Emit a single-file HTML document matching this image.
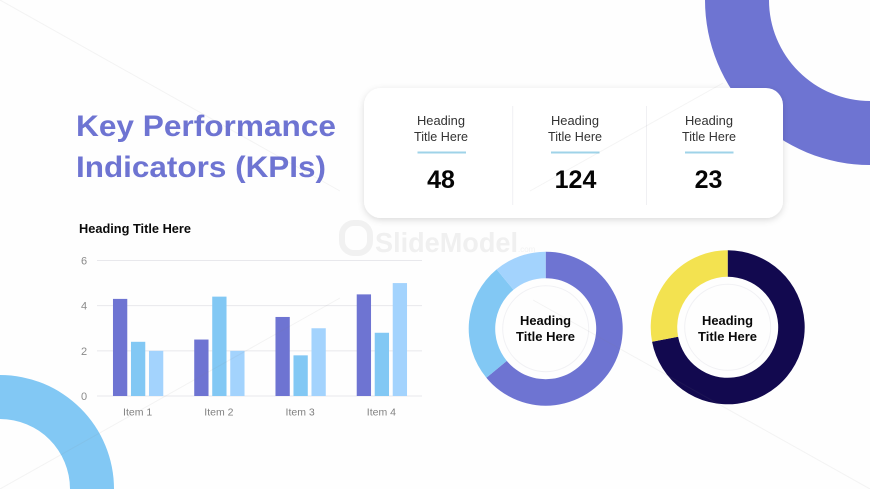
<!DOCTYPE html>
<html lang="en">
<head>
<meta charset="utf-8">
<title>Key Performance Indicators (KPIs)</title>
<style>
html,body{margin:0;padding:0;background:#fff;}
body{width:870px;height:489px;overflow:hidden;}
svg{display:block;font-family:"Liberation Sans",sans-serif;}
</style>
</head>
<body>
<svg id="slide" xmlns="http://www.w3.org/2000/svg" width="870" height="489" viewBox="0 0 870 489">
  <defs>
    <filter id="cardShadow" x="-10%" y="-20%" width="120%" height="140%">
      <feDropShadow dx="0" dy="2" stdDeviation="3.5" flood-color="#000" flood-opacity="0.14"/>
    </filter>
  </defs>
  <rect width="870" height="489" fill="#fefefe"/>
  <path d="M705 0A165 165 0 0 0 870 165L870 101A101 101 0 0 1 769 0Z" fill="#6e74d2"/>
  <path d="M0 375A114 114 0 0 1 114 489L70 489A70 70 0 0 0 0 419Z" fill="#82c8f4"/>

  <g>
    <rect x="342" y="223" width="28" height="30" rx="12" fill="none" stroke="#f1f1f1" stroke-width="6"/>
    <text x="375" y="252" font-size="28" font-weight="700" fill="#f0f0f0" textLength="143" lengthAdjust="spacingAndGlyphs">SlideModel</text>
    <text x="518" y="252" font-size="8" fill="#f2f2f2">.com</text>
  </g>

  <text x="76" y="136" font-size="30" font-weight="700" fill="#6e74d2" textLength="260" lengthAdjust="spacingAndGlyphs">Key Performance</text>
  <text x="76" y="177" font-size="30" font-weight="700" fill="#6e74d2" textLength="250" lengthAdjust="spacingAndGlyphs">Indicators (KPIs)</text>

  <g>
    <rect x="364" y="88" width="419" height="130" rx="17" fill="#fff" filter="url(#cardShadow)"/>
    <line x1="512.7" y1="106" x2="512.7" y2="205" stroke="#f0f0f3"/>
    <line x1="646.5" y1="106" x2="646.5" y2="205" stroke="#f0f0f3"/>

    <g text-anchor="middle">
      <text x="441" y="125" font-size="12.5" fill="#333" textLength="48" lengthAdjust="spacingAndGlyphs">Heading</text>
      <text x="441" y="141" font-size="12.5" fill="#333" textLength="54" lengthAdjust="spacingAndGlyphs">Title Here</text>
      <rect x="417.5" y="151.5" width="48.5" height="2" fill="#9fd3e8"/>
      <text x="441" y="188" font-size="25" font-weight="700" fill="#050505">48</text>
    </g>
    <g text-anchor="middle">
      <text x="575" y="125" font-size="12.5" fill="#333" textLength="48" lengthAdjust="spacingAndGlyphs">Heading</text>
      <text x="575" y="141" font-size="12.5" fill="#333" textLength="54" lengthAdjust="spacingAndGlyphs">Title Here</text>
      <rect x="551" y="151.5" width="48.5" height="2" fill="#9fd3e8"/>
      <text x="575.5" y="188" font-size="25" font-weight="700" fill="#050505">124</text>
    </g>
    <g text-anchor="middle">
      <text x="709" y="125" font-size="12.5" fill="#333" textLength="48" lengthAdjust="spacingAndGlyphs">Heading</text>
      <text x="709" y="141" font-size="12.5" fill="#333" textLength="54" lengthAdjust="spacingAndGlyphs">Title Here</text>
      <rect x="685" y="151.5" width="48.5" height="2" fill="#9fd3e8"/>
      <text x="708.5" y="188" font-size="25" font-weight="700" fill="#050505">23</text>
    </g>
  </g>

  <text x="79" y="233" font-size="12.5" font-weight="700" fill="#0a0a0a" textLength="112" lengthAdjust="spacingAndGlyphs">Heading Title  Here</text>
  <g id="barChart"></g>

  <g id="donutOne"></g>
  <circle cx="545.7" cy="328.7" r="43" fill="none" stroke="#f1f1f4"/>
  <text x="545.5" y="325" font-size="12.5" font-weight="700" fill="#0a0a0a" text-anchor="middle" textLength="51" lengthAdjust="spacingAndGlyphs">Heading</text>
  <text x="545.5" y="341" font-size="12.5" font-weight="700" fill="#0a0a0a" text-anchor="middle" textLength="59" lengthAdjust="spacingAndGlyphs">Title Here</text>

  <g id="donutTwo"></g>
  <circle cx="727.7" cy="327.3" r="43" fill="none" stroke="#f1f1f4"/>
  <text x="727.5" y="325" font-size="12.5" font-weight="700" fill="#0a0a0a" text-anchor="middle" textLength="51" lengthAdjust="spacingAndGlyphs">Heading</text>
  <text x="727.5" y="341" font-size="12.5" font-weight="700" fill="#0a0a0a" text-anchor="middle" textLength="59" lengthAdjust="spacingAndGlyphs">Title Here</text>

  <g stroke="#8a8a8a" stroke-opacity="0.09" stroke-width="1">
    <line x1="0" y1="489" x2="340" y2="298"/>
    <line x1="530" y1="191" x2="723" y2="83"/>
    <line x1="0" y1="0" x2="340" y2="191"/>
    <line x1="533" y1="300" x2="870" y2="489"/>
  </g>
</svg>
<script>
var barCategories = ['Item 1', 'Item 2', 'Item 3', 'Item 4'];
var seriesOne = [4.3, 2.5, 3.5, 4.5];
var seriesTwo = [2.4, 4.4, 1.8, 2.8];
var seriesThree = [2, 2, 3, 5];
var yTickLabels = [0, 2, 4, 6];
var donutOneValues = [64, 25, 11];
var donutTwoValues = [72, 28];

var SVGNS = 'http://www.w3.org/2000/svg';
var plotLeft = 97, plotRight = 422, plotBottom = 396, plotTop = 260.5, yMax = 6;
var barWidth = 14.3, barStep = 18;
var seriesList = [seriesOne, seriesTwo, seriesThree];
var seriesColors = ['#6e74d2', '#82c8f4', '#a3d3fd'];

function yScale(v) {
  return plotBottom - (v / yMax) * (plotBottom - plotTop);
}
function xCenter(i) {
  return plotLeft + (i + 0.5) * (plotRight - plotLeft) / barCategories.length;
}
function make(tag, parent, attrs) {
  var el = document.createElementNS(SVGNS, tag);
  for (var k in attrs) el.setAttribute(k, attrs[k]);
  parent.appendChild(el);
  return el;
}

var chart = document.getElementById('barChart');

yTickLabels.forEach(function (t) {
  var grid = make('line', chart, {x1: plotLeft, x2: plotRight, y1: yScale(t), y2: yScale(t), stroke: '#e8e8ec', 'stroke-width': 1});
  
  
  var label = make('text', chart, {x: 84, y: yScale(t) + 4, 'font-size': 11, fill: '#8a8a8a', 'text-anchor': 'middle'});
  
  
  label.textContent = t;
});

barCategories.forEach(function (c, i) {
  seriesList.forEach(function (s, j) {
    var x = xCenter(i) + (j - 1) * barStep - barWidth / 2 + 0.5;
    var bar = make('rect', chart, {x: x, y: yScale(s[i]), width: barWidth, height: plotBottom - yScale(s[i]), fill: seriesColors[j]});
    
    
  });
  var label = make('text', chart, {x: xCenter(i), y: 415.5, 'font-size': 10.5, fill: '#808080', 'text-anchor': 'middle'});
  
  
  label.textContent = c;
});

function polar(cx, cy, r, frac) {
  var a = frac * 2 * Math.PI;
  return [cx + r * Math.sin(a), cy - r * Math.cos(a)];
}
function drawDonut(group, values, colors, cx, cy, outer, inner) {
  var total = values.reduce(function (a, b) { return a + b; }, 0);
  var start = 0;
  values.forEach(function (v, i) {
    var end = start + v / total;
    var large = (end - start) > 0.5 ? 1 : 0;
    var p1 = polar(cx, cy, outer, start), p2 = polar(cx, cy, outer, end);
    var p3 = polar(cx, cy, inner, end), p4 = polar(cx, cy, inner, start);
    var d = 'M' + p1[0] + ' ' + p1[1] +
      'A' + outer + ' ' + outer + ' 0 ' + large + ' 1 ' + p2[0] + ' ' + p2[1] +
      'L' + p3[0] + ' ' + p3[1] +
      'A' + inner + ' ' + inner + ' 0 ' + large + ' 0 ' + p4[0] + ' ' + p4[1] + 'Z';
    var slice = make('path', group, {d: d, fill: colors[i]});
    
    
    start = end;
  });
}
drawDonut(document.getElementById('donutOne'), donutOneValues, ['#6e74d2', '#82c8f4', '#a3d3fd'], 545.7, 328.7, 77, 50.5);
drawDonut(document.getElementById('donutTwo'), donutTwoValues, ['#12094f', '#f3e250'], 727.7, 327.3, 77, 50.5);
</script>
</body>
</html>
